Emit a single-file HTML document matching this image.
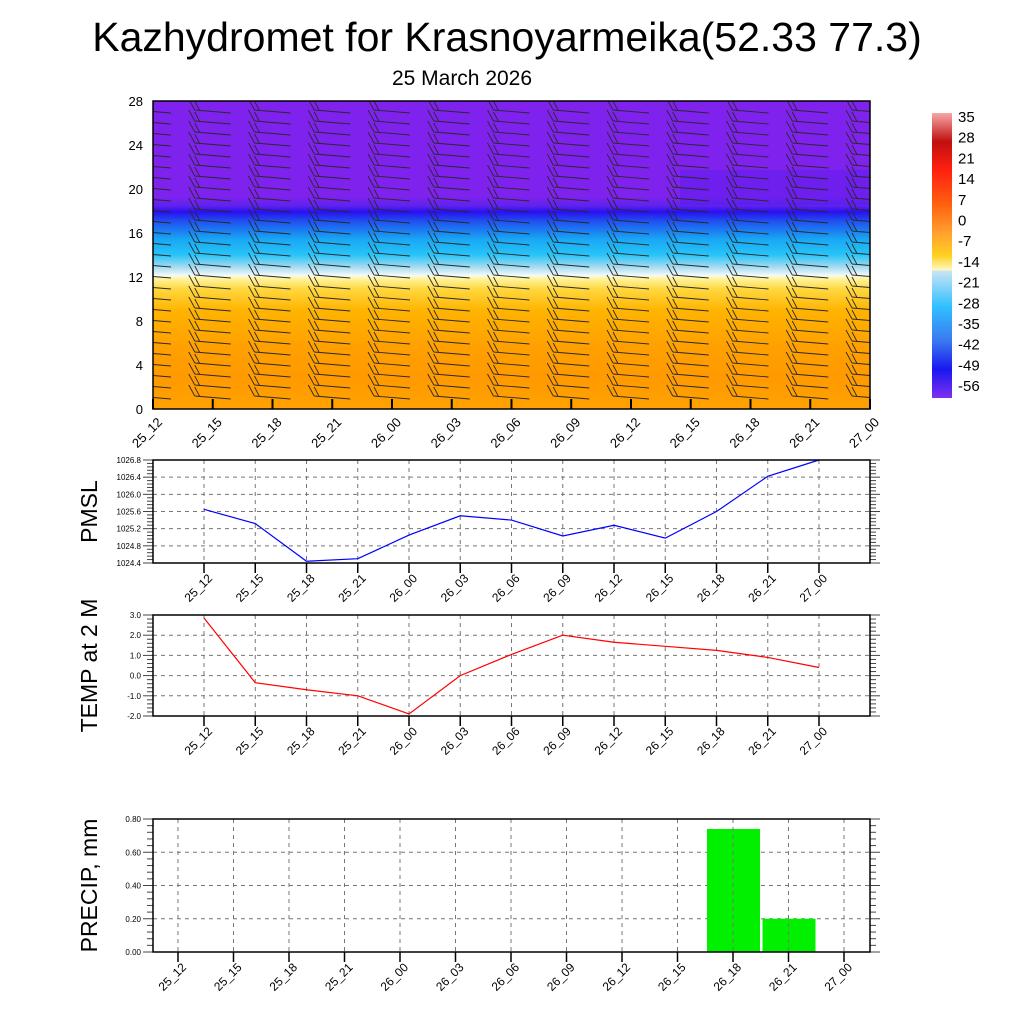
<!DOCTYPE html>
<html><head><meta charset="utf-8"><style>
body{margin:0;background:#fff}
svg{display:block;font-family:"Liberation Sans",sans-serif}
</style></head><body>
<svg id="s" width="1024" height="1024" viewBox="0 0 1024 1024">
<defs>
<linearGradient id="tg" x1="0" y1="0" x2="0" y2="1">
<stop offset="0" stop-color="#7f22ee"/><stop offset="0.31" stop-color="#7f22ee"/>
<stop offset="0.34" stop-color="#6022ee"/><stop offset="0.36" stop-color="#2a10f0"/>
<stop offset="0.39" stop-color="#2050f0"/><stop offset="0.45" stop-color="#18a8f4"/>
<stop offset="0.50" stop-color="#28c4f8"/><stop offset="0.54" stop-color="#a8dcf0"/>
<stop offset="0.567" stop-color="#f4fafa"/><stop offset="0.572" stop-color="#fff8b0"/>
<stop offset="0.61" stop-color="#ffd840"/><stop offset="0.68" stop-color="#ffb400"/>
<stop offset="0.8" stop-color="#ffa000"/><stop offset="0.9" stop-color="#ff9a00"/>
<stop offset="1" stop-color="#ffa200"/>
</linearGradient>
<linearGradient id="cg" x1="0" y1="0" x2="0" y2="1">
<stop offset="0" stop-color="#f6a8a8"/><stop offset="0.1" stop-color="#c01010"/>
<stop offset="0.2" stop-color="#ff2010"/><stop offset="0.32" stop-color="#ff6010"/>
<stop offset="0.42" stop-color="#ffa030"/><stop offset="0.5" stop-color="#ffd020"/>
<stop offset="0.55" stop-color="#fff8c0"/><stop offset="0.555" stop-color="#c8e4f4"/>
<stop offset="0.68" stop-color="#30c0ff"/><stop offset="0.8" stop-color="#3a78f0"/>
<stop offset="0.9" stop-color="#1818f0"/><stop offset="1" stop-color="#8030f0"/>
</linearGradient>
<clipPath id="cp"><rect x="153" y="101" width="717" height="308"/></clipPath>
</defs>
<text x="507" y="51" font-size="41" text-anchor="middle">Kazhydromet for Krasnoyarmeika(52.33 77.3)</text>
<text x="462" y="85" font-size="21" text-anchor="middle">25 March 2026</text>
<rect x="153" y="101" width="717" height="308" fill="url(#tg)"/>
<rect x="680" y="170" width="190" height="35" fill="#4a1cf0" opacity="0.3"/>
<rect x="932" y="113" width="20" height="285" fill="url(#cg)"/>
<g id="b" clip-path="url(#cp)"></g>
<g id="g"></g>
</svg>
<script>
const cats=["25_12","25_15","25_18","25_21","26_00","26_03","26_06","26_09","26_12","26_15","26_18","26_21","27_00"];
const pmsl=[1025.65,1025.32,1024.44,1024.5,1025.05,1025.5,1025.4,1025.03,1025.28,1024.98,1025.6,1026.42,1026.8];
const temp=[2.85,-0.35,-0.7,-1.0,-1.9,0.0,1.05,2.0,1.65,1.45,1.25,0.9,0.4];
const precip=[0,0,0,0,0,0,0,0,0,0,0.74,0.2,0];
const heights=[1,2,3,4,5,6,7,8,9,10,11,12,13,14,15,16,17,18,19,20,21,22,23,24,25,26,27];
const cbLabels=["35","28","21","14","7","0","-7","-14","-21","-28","-35","-42","-49","-56"];
const pmslTicks=["1024.4","1024.8","1025.2","1025.6","1026.0","1026.4","1026.8"];
const tempTicks=["-2.0","-1.0","0.0","1.0","2.0","3.0"];
const precipTicks=["0.00","0.20","0.40","0.60","0.80"];
const NS="http://www.w3.org/2000/svg",G=document.getElementById('g'),B=document.getElementById('b');
function el(t,a,p){const e=document.createElementNS(NS,t);for(const k in a)e.setAttribute(k,a[k]);(p||G).appendChild(e);return e;}
function txt(x,y,s,fs,anc,rot){const e=el('text',{x:x,y:y,'font-size':fs,'text-anchor':anc||'middle'});if(rot!=null)e.setAttribute('transform',`rotate(${rot} ${x} ${y})`);e.textContent=s;return e;}
const tx=i=>153+i*(717/12), ty=h=>409-h*(308/28);
cats.forEach((c,i)=>{
  heights.forEach(h=>{
    const x=tx(i),y=ty(h);
    const b=el('path',{d:`M${x-18} ${y-2}L${x+18} ${y+1}M${x-18} ${y-2}L${x-24} ${y-13}M${x-13} ${y-1.6}L${x-18} ${y-11}`,stroke:'#2a2a2a','stroke-width':0.9,fill:'none'},B);
    
    
  });
  const t=el('line',{x1:tx(i),y1:409,x2:tx(i),y2:399,stroke:'#000','stroke-width':2});
  
  
  const l=txt(tx(i)+10,423,c,13,'end',-45);
  
  
});
[0,4,8,12,16,20,24,28].forEach(v=>{const l=txt(143,ty(v)+5,String(v),13,'end');});
const fr=el('rect',{x:153,y:101,width:717,height:308,fill:'none',stroke:'#000','stroke-width':1.5});


cbLabels.forEach((s,i)=>{const l=txt(958,122+i*20.7,s,15,'start');});
function panel(y0,y1,vmin,vmax,ticks,vals,color,ylab,name,x0c,dx,bars){
  const X0=153,X1=870;
  const sx=i=>x0c+i*dx, sy=v=>y1-(v-vmin)/(vmax-vmin)*(y1-y0);
  const grp=el('g',{});
  
  
  ticks.forEach((s,k)=>{const v=vmin+k*(vmax-vmin)/(ticks.length-1),y=sy(v);
    el('line',{x1:X0,y1:y,x2:X1,y2:y,stroke:'#777','stroke-dasharray':'4 4'},grp);
    const l=txt(X0-12,y+3,s,8,'end');});
  for(let k=0;k<=(ticks.length-1)*5;k++){const y=y1-k*(y1-y0)/((ticks.length-1)*5),w=k%5?6:10;
    el('line',{x1:X0,y1:y,x2:X0-w,y2:y,stroke:'#444'},grp);el('line',{x1:X1,y1:y,x2:X1+w,y2:y,stroke:'#444'},grp);}
  if(bars){vals.forEach((v,i)=>{if(v<=0)return;const r=el('rect',{x:sx(i)-26,y:sy(v),width:53,height:y1-sy(v),fill:'#00f000'},grp);});}
  cats.forEach((c,i)=>{const x=sx(i);
    el('line',{x1:x,y1:y0,x2:x,y2:y1,stroke:'#777','stroke-dasharray':'4 4'},grp);
    el('line',{x1:x,y1:y1,x2:x,y2:y1+10,stroke:'#000','stroke-width':1.5},grp);
    const l=txt(x+9,y1+16,c,12,'end',-45);});
  if(!bars){const p=el('polyline',{points:vals.map((v,i)=>sx(i)+','+sy(v)).join(' '),fill:'none',stroke:color,'stroke-width':1.2},grp);
    }
  el('rect',{x:X0,y:y0,width:X1-X0,height:y1-y0,fill:'none',stroke:'#000','stroke-width':1.5},grp);
  const yl=txt(97,(y0+y1)/2,ylab,23,'middle',-90);
}
panel(460,563,1024.4,1026.8,pmslTicks,pmsl,'#0000ff','PMSL','pmsl',204,51.25,false);
panel(615,716,-2,3,tempTicks,temp,'#ff0000','TEMP at 2 M','temp',204,51.25,false);
panel(819,952,0,0.8,precipTicks,precip,'#00f000','PRECIP, mm','precip',178,55.5,true);
</script>
</body></html>
